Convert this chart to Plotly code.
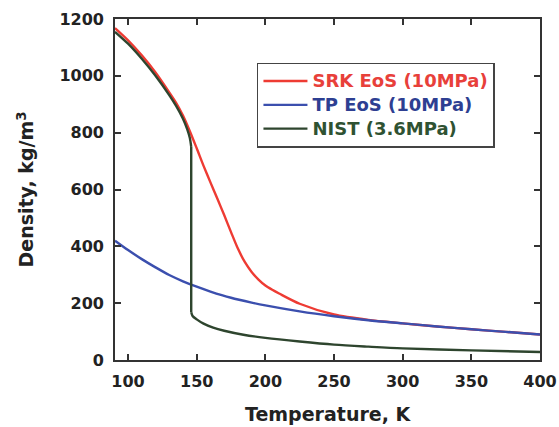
import plotly.graph_objects as go

# ---- data ----
srk_T = [90.5, 100, 110, 120, 130, 135, 140, 145, 150, 155, 160, 165, 170, 175, 180, 185, 190, 195, 200, 205, 210, 225, 250, 275, 300, 325, 350, 375, 400]
srk_D = [1168, 1125, 1072, 1012, 942, 905, 860, 805, 745, 683, 625, 568, 510, 450, 392, 345, 310, 283, 262, 247, 234, 198, 160, 141, 129, 118, 108, 99, 90]

tp_T = [90.5, 100, 110, 120, 130, 140, 150, 160, 175, 190, 200, 225, 250, 275, 300, 325, 350, 375, 400]
tp_D = [420, 387, 355, 326, 299, 277, 258, 241, 219, 202, 192, 171, 154, 140, 129, 118, 108, 99, 90]

# NIST: liquid branch, the jump at saturation, vapour branch
nist_liq_T = [90.5, 100, 110, 120, 130, 135, 140, 143, 145, 146]
nist_liq_D = [1155, 1113, 1060, 1000, 932, 894, 849, 813, 781, 750]
nist_jump_T = [146, 146]
nist_jump_D = [750, 168]
nist_vap_T = [146, 147, 150, 155, 162, 170, 184, 200, 225, 250, 275, 300, 350, 400]
nist_vap_D = [168, 155, 143, 128, 114, 103, 89, 78, 65, 54, 47, 41, 34, 28]

names = ["SRK EoS (10MPa)", "TP EoS (10MPa)", "NIST (3.6MPa)"]
line_colors = ["#ee3b33", "#3b4fae", "#2e452e"]
text_colors = ["#e8403a", "#2e3f92", "#2f5232"]

x_ticks = [100, 150, 200, 250, 300, 350, 400]
y_ticks = [0, 200, 400, 600, 800, 1000, 1200]
x_title = "Temperature, K"
y_title = "Density, kg/m<sup>3</sup>"

FONT = "DejaVu Sans"
LW = 2.4


def legend_name(i):
    return f"<span style='color:{text_colors[i]};font-size:18px'>{names[i]}</span>"


fig = go.Figure()
fig.add_trace(go.Scatter(
    x=srk_T, y=srk_D, mode="lines",
    line=dict(color=line_colors[0], width=LW, shape="spline", smoothing=0.8),
    name=legend_name(0),
))
fig.add_trace(go.Scatter(
    x=tp_T, y=tp_D, mode="lines",
    line=dict(color=line_colors[1], width=LW, shape="spline", smoothing=0.8),
    name=legend_name(1),
))
fig.add_trace(go.Scatter(
    x=nist_liq_T, y=nist_liq_D, mode="lines", legendgroup="nist",
    line=dict(color=line_colors[2], width=LW, shape="spline", smoothing=0.8),
    name=legend_name(2),
))
fig.add_trace(go.Scatter(
    x=nist_jump_T, y=nist_jump_D, mode="lines", legendgroup="nist", showlegend=False,
    line=dict(color=line_colors[2], width=LW), name=names[2],
))
fig.add_trace(go.Scatter(
    x=nist_vap_T, y=nist_vap_D, mode="lines", legendgroup="nist", showlegend=False,
    line=dict(color=line_colors[2], width=LW, shape="spline", smoothing=0.8), name=names[2],
))

axis_common = dict(
    showline=True, linecolor="#333333", linewidth=1.6, mirror="ticks",
    ticks="inside", ticklen=6, tickwidth=1.6, tickcolor="#333333",
    showgrid=False, zeroline=False, automargin=False, ticklabelstandoff=6,
    tickfont=dict(family=FONT, size=16, color="#222222", weight="bold"),
)

title_font = dict(family=FONT, size=19, color="#222222", weight="bold")

fig.update_layout(
    width=559, height=427,
    margin=dict(l=115, r=19, t=19, b=67),
    paper_bgcolor="white", plot_bgcolor="white",
    font=dict(family=FONT),
    xaxis=dict(range=[90.5, 400], tickvals=x_ticks, **axis_common),
    yaxis=dict(range=[0, 1200], tickvals=y_ticks, **axis_common),
    legend=dict(
        x=0.334, y=0.872, xanchor="left", yanchor="top",
        bgcolor="white", bordercolor="#444444", borderwidth=1.5,
        font=dict(family=FONT, size=16, weight="bold"),
        tracegroupgap=0, itemwidth=44,
    ),
    showlegend=True,
    annotations=[
        dict(text=x_title, xref="paper", yref="paper", x=0.5, y=0,
             xanchor="center", yanchor="middle", yshift=-54, showarrow=False,
             font=title_font),
        dict(text=y_title, xref="paper", yref="paper", x=0, y=0.5,
             xanchor="center", yanchor="middle", xshift=-90, textangle=-90,
             showarrow=False, font=title_font),
    ],
)

fig.write_html("out.html")
